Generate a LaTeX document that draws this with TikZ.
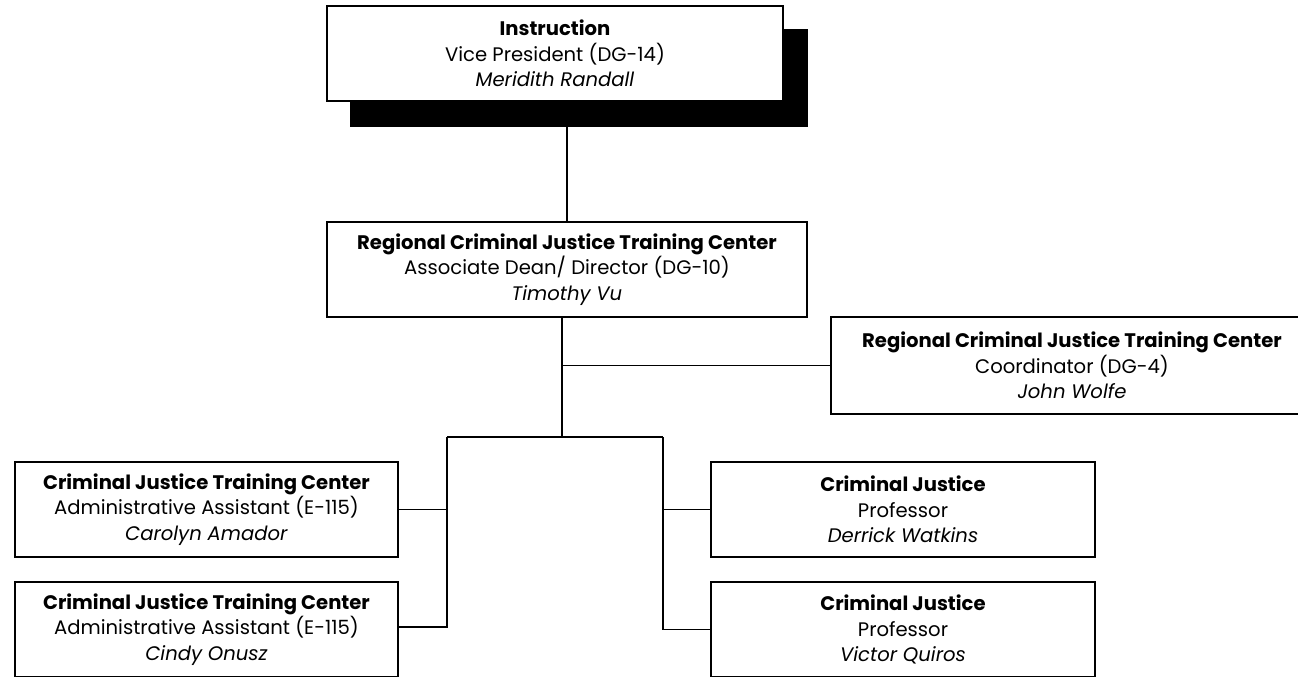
\documentclass[tikz,border=0pt]{standalone}
\usepackage{fontspec}
\setmainfont{Poppins}
\begin{document}
\begin{tikzpicture}[x=0.5pt, y=-0.5pt,
		post/.style={draw=black, line width=0.9pt, fill=white, align=center, inner sep=0pt, minimum height=47.5pt, font=\fontsize{9.8}{12.75}\selectfont},
		shadebox/.style={fill=black, inner sep=0pt},
		link/.style={draw=black, line width=0.9pt}]
	\useasboundingbox (0,0) rectangle (1298,676);
	% top of the chart
	\node[shadebox, minimum width=229pt, minimum height=49pt] (vps) at (579,78) {};
	\node[post, minimum width=228pt] (vp) at (555,53.5) {\textbf{Instruction}\\Vice President (DG-14)\\\textit{Meridith Randall}};
	\node[post, minimum width=240pt] (dir) at (567,269.5) {\textbf{Regional Criminal Justice Training Center}\\Associate Dean/ Director (DG-10)\\\textit{Timothy Vu}};
	\node[post, minimum width=241pt, minimum height=48.5pt] (coord) at (1072,365.5) {\textbf{Regional Criminal Justice Training Center}\\Coordinator (DG-4)\\\textit{John Wolfe}};
	% staff
	\node[post, minimum width=191.5pt] (asst1) at (206.5,509.5) {\textbf{Criminal Justice Training Center}\\Administrative Assistant (E-115)\\\textit{Carolyn Amador}};
	\node[post, minimum width=191.5pt] (asst2) at (206.5,629.5) {\textbf{Criminal Justice Training Center}\\Administrative Assistant (E-115)\\\textit{Cindy Onusz}};
	\node[post, minimum width=192pt] (prof1) at (903,509.5) {\textbf{Criminal Justice}\\Professor\\\textit{Derrick Watkins}};
	\node[post, minimum width=192pt] (prof2) at (903,629.5) {\textbf{Criminal Justice}\\Professor\\\textit{Victor Quiros}};
	% junctions
	\coordinate (hub) at (562,437);
	\coordinate (lbr) at (447,437);
	\coordinate (rbr) at (663,437);
	\draw[link] (dir.north) -- (dir.north |- vps.south);
	\draw[link] (dir.south -| hub) -- (hub);
	\draw[link] (hub |- coord.west) -- (coord.west);
	\draw[link] (lbr) -- (rbr);
	\draw[link] (asst1.east) -| (lbr);
	\draw[link] (asst2.east |- 0,627) -| (lbr);
	\draw[link] (prof1.west) -| (rbr);
	\draw[link] (prof2.west) -| (rbr);
\end{tikzpicture}
\end{document}
